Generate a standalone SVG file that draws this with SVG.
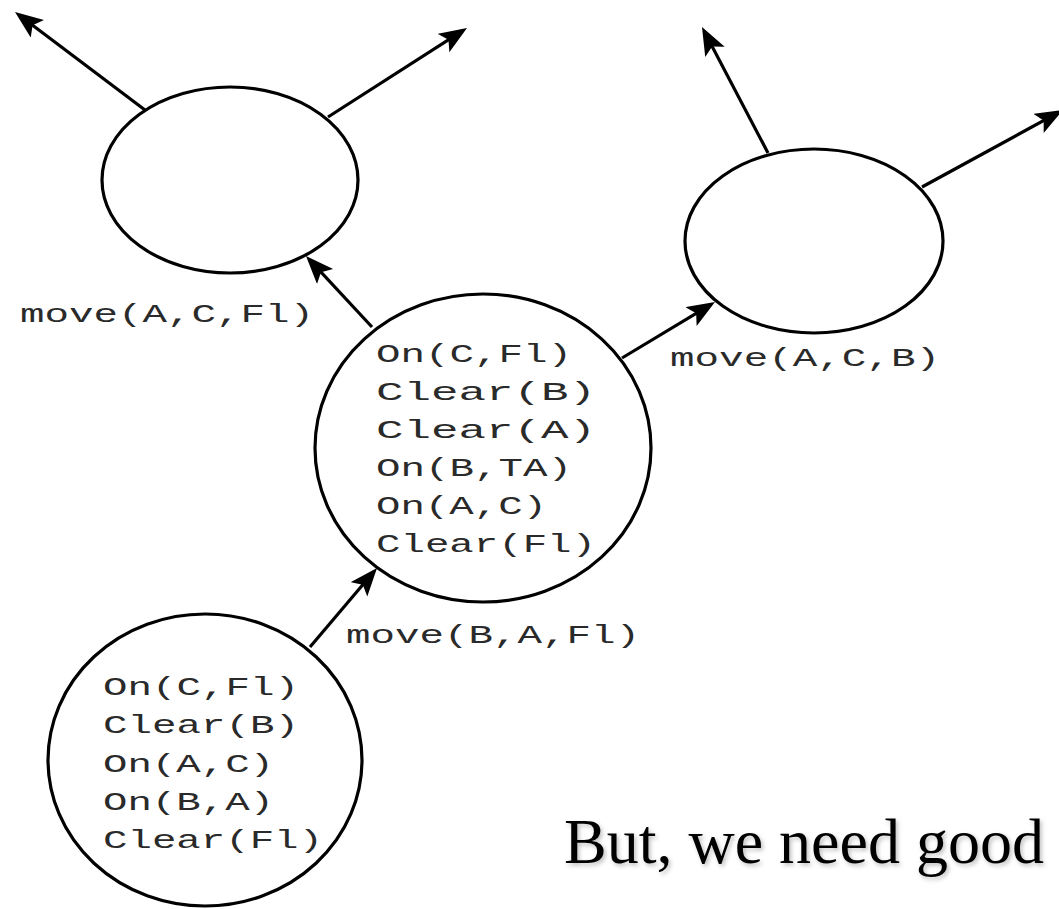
<svg xmlns="http://www.w3.org/2000/svg" width="1059" height="909" viewBox="0 0 1059 909">
<style>
.node{fill:#fff;stroke:#000;stroke-width:3.2}
.edge{stroke:#000;stroke-width:3.2;fill:none;marker-end:url(#ah)}
.mono{font-family:"Liberation Mono","DejaVu Sans Mono",monospace;font-size:26.5px;fill:#2a2a2a}
.big{font-family:"Liberation Serif","Times New Roman",serif;font-size:64px;fill:#000}
</style>
<defs>
<marker id="ah" markerUnits="userSpaceOnUse" markerWidth="30" markerHeight="24" refX="23" refY="11" orient="auto">
<path d="M0,0 L28,11 L0,22 L6,11 Z" fill="#000"/>
</marker>
<filter id="sh" x="-5%" y="-20%" width="110%" height="150%">
<feDropShadow dx="2" dy="2.5" stdDeviation="2" flood-color="#000" flood-opacity="0.25"/>
</filter>
</defs>
<rect width="1059" height="909" fill="#fff"/>
<g id="connectors">
<line class="edge" x1="145" y1="110" x2="19" y2="15"/>
<line class="edge" x1="328" y1="117" x2="462.8" y2="30.7"/>
<line class="edge" x1="372" y1="327" x2="309.4" y2="259.7"/>
<line class="edge" x1="622" y1="358" x2="710.7" y2="304.6"/>
<line class="edge" x1="768" y1="153" x2="704.3" y2="31.4"/>
<line class="edge" x1="922" y1="187" x2="1058.6" y2="112.4"/>
<line class="edge" x1="310" y1="647" x2="373.8" y2="571.8"/>
</g>
<g id="node-top-left">
<ellipse class="node" cx="230" cy="180" rx="128" ry="93"/>
</g>
<g id="node-top-right">
<ellipse class="node" cx="814" cy="241" rx="129" ry="92"/>
</g>
<g id="node-middle">
<ellipse class="node" cx="483" cy="448" rx="168" ry="154"/>
<text class="mono" x="376" y="362" textLength="196" lengthAdjust="spacingAndGlyphs">On(C,Fl)</text>
<text class="mono" x="376" y="400" textLength="220" lengthAdjust="spacingAndGlyphs">Clear(B)</text>
<text class="mono" x="376" y="438" textLength="220" lengthAdjust="spacingAndGlyphs">Clear(A)</text>
<text class="mono" x="376" y="476" textLength="196" lengthAdjust="spacingAndGlyphs">On(B,TA)</text>
<text class="mono" x="376" y="514" textLength="171" lengthAdjust="spacingAndGlyphs">On(A,C)</text>
<text class="mono" x="376" y="552" textLength="220" lengthAdjust="spacingAndGlyphs">Clear(Fl)</text>
</g>
<g id="node-bottom">
<ellipse class="node" cx="205" cy="760" rx="157" ry="146"/>
<text class="mono" x="103" y="695" textLength="196" lengthAdjust="spacingAndGlyphs">On(C,Fl)</text>
<text class="mono" x="103" y="733" textLength="196" lengthAdjust="spacingAndGlyphs">Clear(B)</text>
<text class="mono" x="103" y="772" textLength="171" lengthAdjust="spacingAndGlyphs">On(A,C)</text>
<text class="mono" x="103" y="810" textLength="171" lengthAdjust="spacingAndGlyphs">On(B,A)</text>
<text class="mono" x="103" y="848" textLength="220" lengthAdjust="spacingAndGlyphs">Clear(Fl)</text>
</g>
<g id="labels">
<text class="mono" x="20" y="322" textLength="294" lengthAdjust="spacingAndGlyphs">move(A,C,Fl)</text>
<text class="mono" x="670" y="366" textLength="270" lengthAdjust="spacingAndGlyphs">move(A,C,B)</text>
<text class="mono" x="346" y="643" textLength="294" lengthAdjust="spacingAndGlyphs">move(B,A,Fl)</text>
<text class="big" x="564" y="863" filter="url(#sh)">But, we need good</text>
</g>
</svg>
